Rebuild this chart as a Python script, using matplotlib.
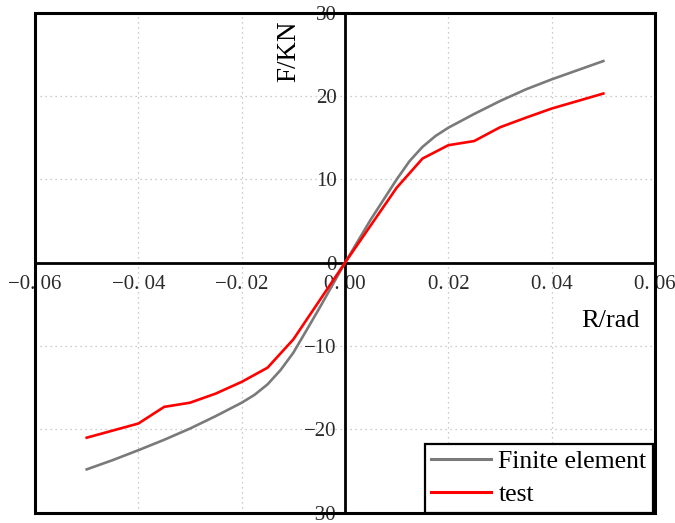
import matplotlib
matplotlib.use("Agg")
import matplotlib.pyplot as plt
from matplotlib.patches import Rectangle

# Data
fe_x = [-0.05, -0.045, -0.04, -0.035, -0.03, -0.025, -0.02, -0.0175, -0.015, -0.0125, -0.01, -0.005, 0.0,
        0.005, 0.01, 0.0125, 0.015, 0.0175, 0.02, 0.025, 0.03, 0.035, 0.04, 0.045, 0.05]
fe_y = [-24.8, -23.7, -22.5, -21.25, -19.9, -18.4, -16.8, -15.85, -14.6, -12.9, -10.8, -5.5, 0.0,
        5.2, 10.0, 12.2, 13.9, 15.2, 16.2, 17.85, 19.4, 20.8, 22.0, 23.1, 24.2]
test_x = [-0.05, -0.04, -0.035, -0.03, -0.025, -0.02, -0.015, -0.01, 0.0,
          0.01, 0.015, 0.02, 0.025, 0.03, 0.035, 0.04, 0.05]
test_y = [-21.0, -19.3, -17.3, -16.8, -15.7, -14.3, -12.6, -9.2, 0.0,
          9.0, 12.5, 14.1, 14.6, 16.25, 17.4, 18.5, 20.3]
xticks = [-0.06, -0.04, -0.02, 0.0, 0.02, 0.04, 0.06]
xticklabels = ["\u22120. 06", "\u22120. 04", "\u22120. 02", "0. 00", "0. 02", "0. 04", "0. 06"]
yticks = [-30, -20, -10, 0, 10, 20, 30]
yticklabels = ["\u221230", "\u221220", "\u221210", "0", "10", "20", "30"]

plt.rcParams['font.family'] = ['Liberation Serif', 'DejaVu Serif']

fig = plt.figure(figsize=(6.75, 5.23), dpi=100)
ax = fig.add_axes([0.0519, 0.0197, 0.9185, 0.956])

ax.plot(fe_x, fe_y, color='#7a7a7a', lw=1.9, label='Finite element', zorder=3)
ax.plot(test_x, test_y, color='#ff0000', lw=1.9, label='test', zorder=4)

ax.set_xlim(-0.06, 0.06)
ax.set_ylim(-30, 30)
ax.set_xticks(xticks)
ax.set_xticklabels(xticklabels)
ax.set_yticks(yticks)
ax.set_yticklabels(yticklabels)

ax.spines['left'].set_position(('data', 0))
ax.spines['bottom'].set_position(('data', 0))
ax.spines['top'].set_visible(False)
ax.spines['right'].set_visible(False)
for s in ('left', 'bottom'):
    ax.spines[s].set_linewidth(2.0)
    ax.spines[s].set_zorder(2)
ax.add_patch(Rectangle((0, 0), 1, 1, transform=ax.transAxes, fill=False,
                       lw=2.2, edgecolor='black', clip_on=False, zorder=5))

ax.tick_params(axis='both', length=0, labelsize=15, colors='#2a2a2a')
ax.tick_params(axis='x', pad=9)
ax.tick_params(axis='y', pad=6)
ax.grid(True, linestyle=(0, (1, 3)), color='#bbbbbb', lw=0.9)

ax.text(0.4097, 0.9234, 'F/KN', transform=ax.transAxes, rotation=90,
        ha='center', va='center', fontsize=19.5)
ax.text(0.929, 0.371, 'R/rad', transform=ax.transAxes,
        ha='center', va='baseline', fontsize=19)

leg = ax.legend(loc='lower right', bbox_to_anchor=(0.9965, 0.0), fontsize=18.5,
                frameon=True, fancybox=False,
                borderaxespad=0.0, handlelength=2.3, handletextpad=0.3,
                borderpad=0.25, labelspacing=0.4)
leg.get_frame().set_edgecolor('black')
leg.get_frame().set_linewidth(1.6)
leg.get_frame().set_alpha(1)
for line in leg.get_lines():
    line.set_linewidth(2.2)

fig.savefig('out.png', dpi=100)
